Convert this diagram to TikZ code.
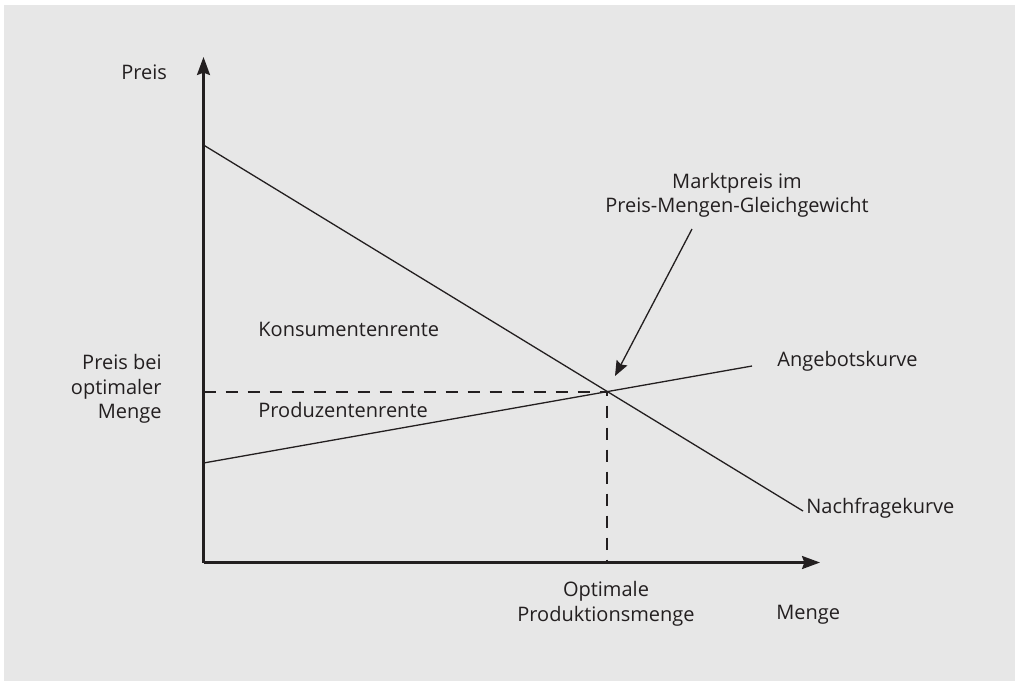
\documentclass[tikz,border=0pt]{standalone}
\usepackage{fontspec}
\setmainfont{Open Sans}
\usetikzlibrary{arrows.meta}
\definecolor{bg}{HTML}{E7E7E7}
\definecolor{ink}{HTML}{231F20}
\begin{document}
\begin{tikzpicture}[x=0.5pt,y=-0.5pt,
  lbl/.style={inner sep=0pt,text=ink,font=\fontsize{10}{12.25}\selectfont},
  axis/.style={draw=ink,line width=1.15pt,-{Stealth[length=9pt,width=6.5pt,inset=1.2pt]}},
  curve/.style={draw=ink,line width=0.65pt},
  guide/.style={draw=ink,line width=1pt,dash pattern=on 6pt off 5pt},
  pointer/.style={draw=ink,line width=0.65pt,-{Stealth[length=7.5pt,width=6pt,inset=1pt]}}]
\useasboundingbox (0,0) rectangle (1015,681);
\fill[bg] (4,5) rectangle (1015,681);
% coordinates
\coordinate (O) at (203.5,562.5);
\coordinate (ytip) at (203.5,57);
\coordinate (xtip) at (820,562.5);
\coordinate (D1) at (203.5,145);
\coordinate (D2) at (803,511);
\coordinate (S1) at (203.5,463);
\coordinate (S2) at (752,366);
\coordinate (E) at (607.4,391.6);
\coordinate (Ey) at (203.5,391.6);
\coordinate (Ex) at (607.4,562.5);
\coordinate (A1) at (692,229);
\coordinate (A2) at (615,376);
% curves
\draw[curve] (D1) -- (D2);
\draw[curve] (S1) -- (S2);
\draw[guide] (Ey) -- (E) -- (Ex);
\draw[axis] (O) -- (ytip);
\draw[axis] (O) -- (xtip);
\draw[pointer] (A1) -- (A2);
% labels
\node[lbl,anchor=base west] (preis) at (121,79) {Preis};
\node[lbl,anchor=base west] (menge) at (776,619) {Menge};
\node[lbl,anchor=base west] (kons) at (258,336) {Konsumentenrente};
\node[lbl,anchor=base west] (prod) at (258,417) {Produzentenrente};
\node[lbl,anchor=base west] (ang) at (777,366) {Angebotskurve};
\node[lbl,anchor=base west] (nach) at (806,513) {Nachfragekurve};
\node[lbl,align=right,anchor=east] (pbom) at (162,389) {Preis bei\\optimaler\\Menge};
\node[lbl,align=center] (markt) at (737,195.5) {Marktpreis im\\Preis-Mengen-Gleichgewicht};
\node[lbl,align=center] (opt) at (606,604) {Optimale\\Produktionsmenge};
\end{tikzpicture}
\end{document}
